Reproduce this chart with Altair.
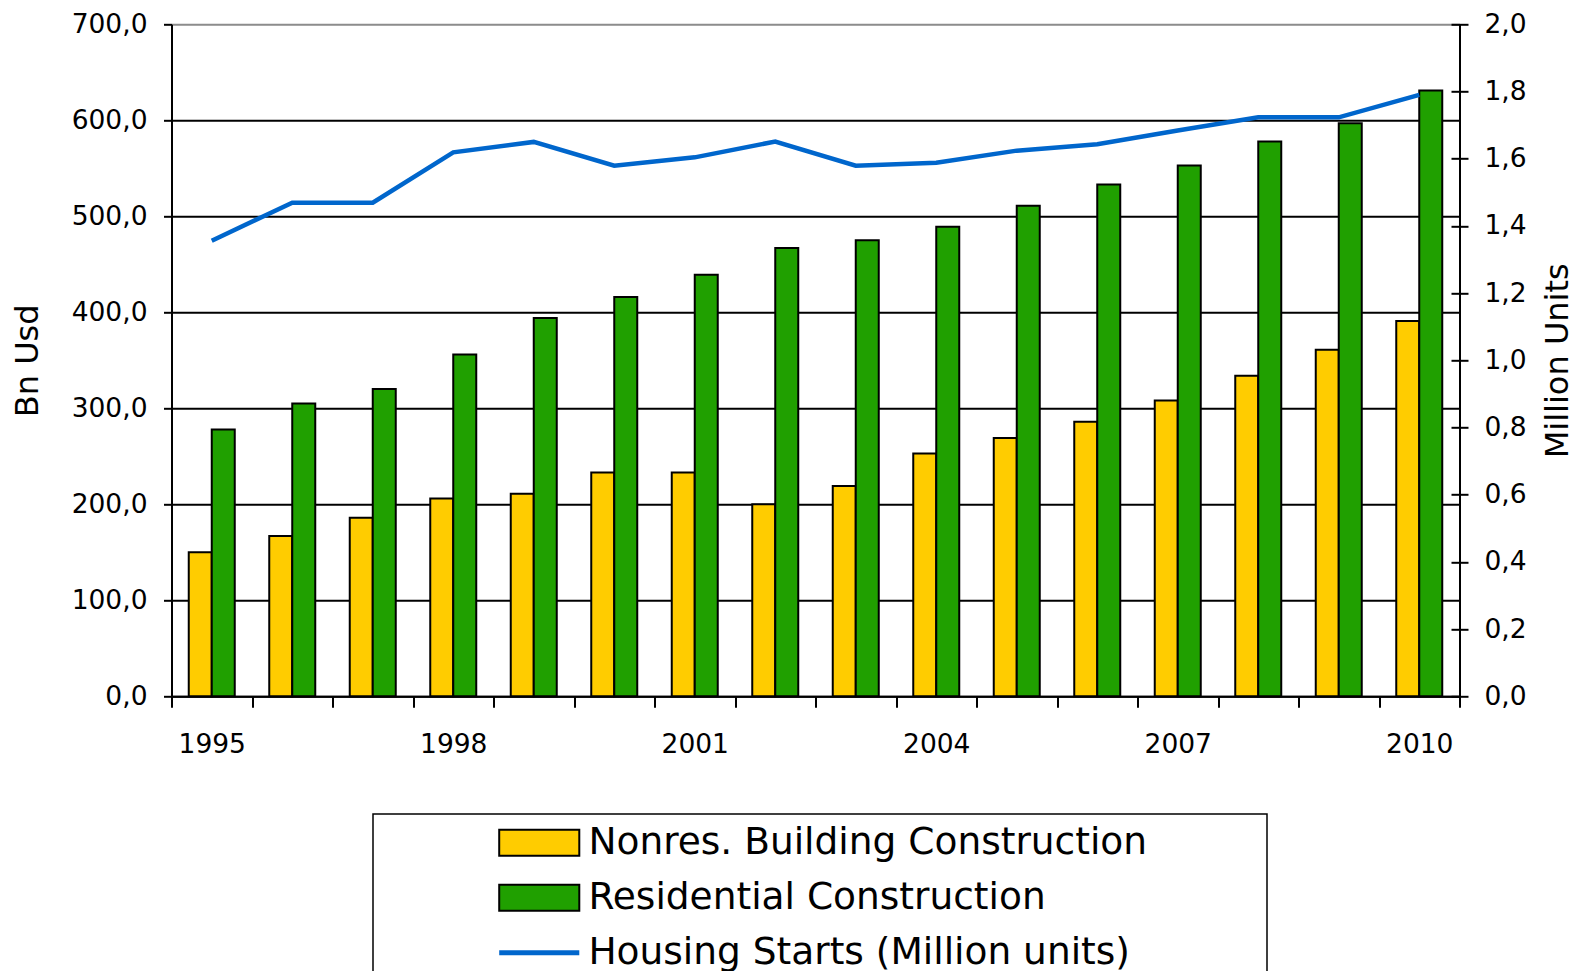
import json
import altair as alt
import pandas as pd

# ---------------- data ----------------
years = [1995, 1996, 1997, 1998, 1999, 2000, 2001, 2002,
         2003, 2004, 2005, 2006, 2007, 2008, 2009, 2010]
nonres = [150, 167, 186, 206, 211, 233, 233, 200,
          219, 253, 269, 286, 308, 334, 361, 391]
resid = [278, 305, 320, 356, 394, 416, 439, 467,
         475, 489, 511, 533, 553, 578, 597, 631]
starts = [1.356, 1.469, 1.469, 1.619, 1.650, 1.579, 1.604, 1.651,
          1.579, 1.588, 1.624, 1.643, 1.684, 1.723, 1.723, 1.790]
series = ["Nonres. Building Construction", "Residential Construction",
          "Housing Starts (Million units)"]
fill_colors = ["#FFCC00", "#20A000", "transparent"]
stroke_colors = ["black", "black", "#0066CC"]
labeled_years = [1995, 1998, 2001, 2004, 2007, 2010]
left_ticks = [0, 100, 200, 300, 400, 500, 600, 700]
right_ticks = [0.0, 0.2, 0.4, 0.6, 0.8, 1.0, 1.2, 1.4, 1.6, 1.8, 2.0]

bars_df = pd.DataFrame({
    "year": years + years,
    "series": [series[0]] * len(years) + [series[1]] * len(years),
    "value": nonres + resid,
})
line_df = pd.DataFrame({"year": years, "series": [series[2]] * len(years), "units": starts})

FONT = "DejaVu Sans"
comma_fmt = "replace(format(datum.value, '.1f'), '.', ',')"

x_axis = alt.Axis(
    title=None, tickBand="extent", tickSize=11, tickWidth=2, tickColor="black",
    domainColor="black", domainWidth=2, labelAngle=0, labelFont=FONT,
    labelFontSize=26.5, labelColor="black", labelPadding=24, grid=False,
    labelExpr=f"indexof({json.dumps(labeled_years)}, datum.value) >= 0 ? datum.label : ''",
)
x_enc = alt.X("year:O", scale=alt.Scale(paddingInner=0, paddingOuter=0), axis=x_axis)

# blank braille cells pad the legend frame on the right (they are invisible)
PAD = "\u2800" * 4


def make_legend():
    return alt.Legend(
        title=None, orient="none", legendX=201.5, legendY=789.7, direction="vertical",
        labelFont=FONT, labelFontSize=37.5, labelColor="black", labelLimit=3000,
        labelExpr=f"datum.label + '{PAD}'",
        symbolSize=676, symbolOffset=137.5, labelOffset=30.4, rowPadding=16, padding=10,
        strokeColor="black", fillColor="white",
    )


fill_scale = alt.Scale(domain=series, range=fill_colors)
stroke_scale = alt.Scale(domain=series, range=stroke_colors)

bars = alt.Chart(bars_df).mark_bar(strokeWidth=2).encode(
    x=x_enc,
    xOffset=alt.XOffset("series:N", sort=series[:2],
                        scale=alt.Scale(paddingInner=0, paddingOuter=0.75)),
    y=alt.Y("value:Q", scale=alt.Scale(domain=[0, 700], nice=False),
            axis=alt.Axis(
                title="Bn Usd", values=left_ticks, labelExpr=comma_fmt,
                tickSize=8, tickWidth=2, tickColor="black",
                domainColor="black", domainWidth=2,
                grid=True, gridWidth=2,
                gridColor={"condition": {"test": "datum.value >= 700", "value": "#8c8c8c"},
                           "value": "black"},
                labelFont=FONT, labelFontSize=26.5, labelColor="black", labelPadding=16.5,
                titleFont=FONT, titleFontSize=32, titleFontWeight="normal",
                titleColor="black", titlePadding=27)),
    fill=alt.Fill("series:N", scale=fill_scale, legend=make_legend()),
    stroke=alt.Stroke("series:N", scale=stroke_scale, legend=make_legend()),
)

line = alt.Chart(line_df).mark_line(strokeWidth=4.5).encode(
    x=x_enc,
    y=alt.Y("units:Q", scale=alt.Scale(domain=[0, 2], nice=False),
            axis=alt.Axis(
                orient="right", title="Million Units", values=right_ticks,
                labelExpr=comma_fmt, tickSize=8.5, tickWidth=2, tickColor="black",
                domainColor="black", domainWidth=2, grid=False,
                labelFont=FONT, labelFontSize=26.5, labelColor="black", labelPadding=16,
                titleFont=FONT, titleFontSize=32, titleFontWeight="normal",
                titleColor="black", titleAngle=270, titleBaseline="top",
                titlePadding=16)),
    stroke=alt.Stroke("series:N", scale=stroke_scale),
)

inner_ticks = alt.Chart(line_df).mark_line(opacity=0).encode(
    x=x_enc,
    y=alt.Y("units:Q", scale=alt.Scale(domain=[0, 2], nice=False),
            axis=alt.Axis(orient="right", offset=-8.5, values=right_ticks, labels=False,
                          domain=False, title=None, tickSize=8.5, tickWidth=2,
                          tickColor="black", grid=False)),
)

chart = alt.layer(bars, line, inner_ticks).resolve_scale(y="independent").properties(
    width=1288, height=672, autosize="none",
    padding={"left": 163.5, "top": 16.3, "right": 114, "bottom": 274.7},
).configure_view(stroke=None).configure(background="white")

# ---- custom legend symbol shapes (hidden Vega-Lite legend property "encoding") ----
line_name = json.dumps(series[2])
shape_sig = f"datum.value === {line_name} ? 'M-3.08,0H3.08' : 'M-3.08,-1H3.08V1H-3.08Z'"
sw_sig = f"datum.value === {line_name} ? 5 : 2"
legend_encoding = {
    "symbols": {
        "shape": {"value": {"signal": shape_sig}},
        "strokeWidth": {"value": {"signal": sw_sig}},
        "opacity": {"value": 1},
    }
}

spec = chart.to_dict()
for ch in ("fill", "stroke"):
    spec["layer"][0]["encoding"][ch]["legend"]["encoding"] = legend_encoding
spec.setdefault("config", {}).setdefault("legend", {})["strokeWidth"] = 1.5

object.__setattr__(chart, "to_dict", lambda *a, **k: spec)
chart.save("out.html", embed_options={"renderer": "svg", "actions": False})
